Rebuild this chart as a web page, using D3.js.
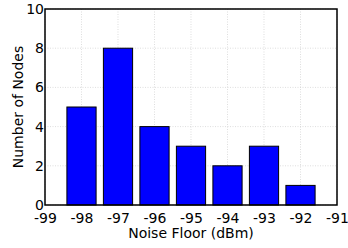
<!DOCTYPE html>
<html>
<head>
<meta charset="utf-8">
<script src="https://cdn.jsdelivr.net/npm/d3@7"></script>
<style>
  body { margin: 0; background: #fff; }
  svg text { font-family: "DejaVu Sans", sans-serif; }
</style>
</head>
<body>
<div id="chart"></div>
<script>
"use strict";

var noiseFloor = [-98, -97, -96, -95, -94, -93, -92],
    nodeCounts = [5, 8, 4, 3, 2, 3, 1],
    xTicks = [-99, -98, -97, -96, -95, -94, -93, -92, -91],
    yTicks = [0, 2, 4, 6, 8, 10];

var W = 348, H = 248,
    margin = { top: 9, right: 11, bottom: 43, left: 45 },
    w = W - margin.left - margin.right,
    h = H - margin.top - margin.bottom,
    barWidth = 0.8,
    fontSize = 14;

var svg = d3.select("#chart")
    .append("svg")
    .attr("width", W)
    .attr("height", H);

var g = svg.append("g")
    .attr("transform", "translate(" + margin.left + "," + margin.top + ")");

var x = d3.scaleLinear().domain([-99, -91]).range([0, w]),
    y = d3.scaleLinear().domain([0, 10]).range([h, 0]);

// dotted grid
g.selectAll("line.vgrid")
    .data(xTicks)
    .enter()
    .append("line")
    .attr("class", "vgrid")
    .attr("x1", function (d) { return x(d); })
    .attr("x2", function (d) { return x(d); })
    .attr("y1", 0)
    .attr("y2", h)
    .attr("stroke", "#c8c8c8")
    .attr("stroke-width", 0.6)
    .attr("stroke-dasharray", "1,1.5");

g.selectAll("line.hgrid")
    .data(yTicks)
    .enter()
    .append("line")
    .attr("class", "hgrid")
    .attr("x1", 0)
    .attr("x2", w)
    .attr("y1", function (d) { return y(d); })
    .attr("y2", function (d) { return y(d); })
    .attr("stroke", "#c8c8c8")
    .attr("stroke-width", 0.6)
    .attr("stroke-dasharray", "1,1.5");

// bars
g.selectAll("rect.bar")
    .data(noiseFloor)
    .enter()
    .append("rect")
    .attr("class", "bar")
    .attr("x", function (d) { return x(d - barWidth / 2); })
    .attr("width", function (d) { return x(d + barWidth / 2) - x(d - barWidth / 2); })
    .attr("y", function (d, i) { return y(nodeCounts[i]); })
    .attr("height", function (d, i) { return h - y(nodeCounts[i]); })
    .attr("fill", "#0000ff")
    .attr("stroke", "#000")
    .attr("stroke-width", 1);

// axes (labels only, frame drawn below)
var xAxis = d3.axisBottom(x).tickValues(xTicks).tickSize(0).tickPadding(8)
    .tickFormat(function (d) { return d; });
var yAxis = d3.axisLeft(y).tickValues(yTicks).tickSize(0).tickPadding(1);

g.append("g")
    .attr("transform", "translate(0," + h + ")")
    .call(xAxis)
    .call(function (s) { s.select(".domain").remove(); })
    .selectAll("text")
    .attr("font-size", fontSize)
    .attr("font-family", "DejaVu Sans")
    .attr("fill", "#000");

g.append("g")
    .call(yAxis)
    .call(function (s) { s.select(".domain").remove(); })
    .selectAll("text")
    .attr("font-size", fontSize)
    .attr("font-family", "DejaVu Sans")
    .attr("fill", "#000");

// frame
g.append("rect")
    .attr("width", w)
    .attr("height", h)
    .attr("fill", "none")
    .attr("stroke", "#000")
    .attr("stroke-width", 1.5);

// axis titles
svg.append("text")
    .attr("x", margin.left + w / 2)
    .attr("y", 238)
    .attr("text-anchor", "middle")
    .attr("font-size", fontSize)
    .text("Noise Floor (dBm)");

svg.append("text")
    .attr("transform", "translate(23," + (margin.top + h / 2) + ") rotate(-90)")
    .attr("text-anchor", "middle")
    .attr("font-size", fontSize)
    .text("Number of Nodes");
</script>
</body>
</html>
